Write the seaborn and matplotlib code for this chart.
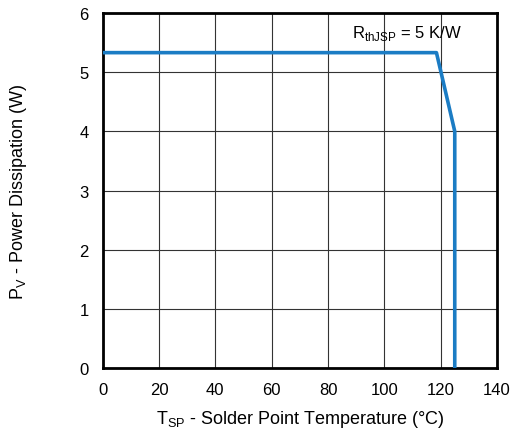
import matplotlib
matplotlib.use("Agg")
import matplotlib.pyplot as plt
import seaborn as sns
import pandas as pd

# derating curve
temp_c = [0, 118.5, 125, 125]
power_w = [5.33, 5.33, 4.0, 0.0]
x_ticks = [0, 20, 40, 60, 80, 100, 120, 140]
y_ticks = [0, 1, 2, 3, 4, 5, 6]

sns.set_theme(style="white")
plt.rcParams['font.family'] = ['Liberation Sans', 'DejaVu Sans']
plt.rcParams['text.color'] = 'black'
plt.rcParams['axes.labelcolor'] = 'black'

df = pd.DataFrame({"T": temp_c, "P": power_w})

fig = plt.figure(figsize=(5.12, 4.35), dpi=100)
ax = fig.add_axes([0.2006, 0.1517, 0.7701, 0.8161])

ax.grid(True, color="#333333", linewidth=0.8)
ax.set_axisbelow(True)
sns.lineplot(data=df, x="T", y="P", sort=False, estimator=None, color="#1b7cc4",
             linewidth=2.6, ax=ax, zorder=3)

ax.set_xlim(0, 140)
ax.set_ylim(0, 6)
ax.set_xticks(x_ticks)
ax.set_yticks(y_ticks)
ax.tick_params(length=0, pad=10, labelsize=12, colors="black")
for s in ax.spines.values():
    s.set_color("black")
    s.set_linewidth(2)
    s.set_visible(True)

ax.set_xlabel(r"T$_{\mathregular{SP}}$ - Solder Point Temperature (°C)", fontsize=13, labelpad=8)
ax.set_ylabel(r"P$_{\mathregular{V}}$ - Power Dissipation (W)", fontsize=13, labelpad=36)
ax.text(0.772, 0.946, r"R$_{\mathregular{thJSP}}$ = 5 K/W", transform=ax.transAxes,
        fontsize=12, ha="center", va="center", color="black")

fig.savefig("out.png", dpi=100)
